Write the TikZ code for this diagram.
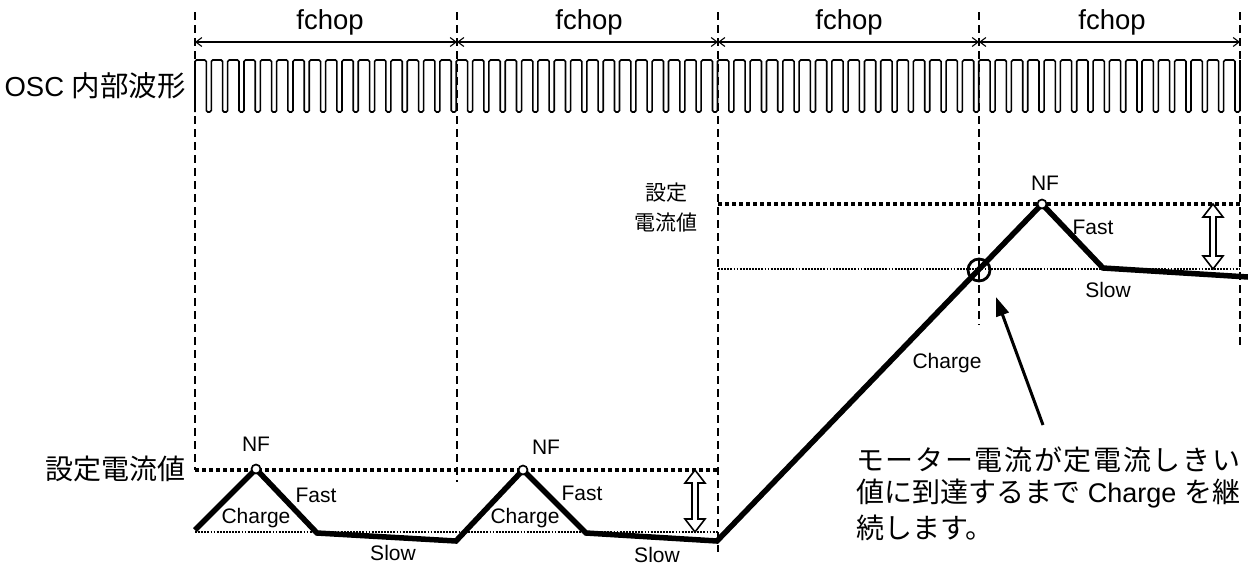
\documentclass[tikz,border=0pt]{standalone}
\usepackage{fontspec}
\setmainfont{Liberation Sans}
\newfontfamily\jp{Noto Sans CJK JP}
\usetikzlibrary{arrows.meta}
\tikzset{
  vdash/.style={line width=1.1pt, dash pattern=on 8pt off 5pt},
  tdot/.style={line width=3.8pt, dash pattern=on 3.8pt off 3.2pt},
  fdot/.style={line width=1.8pt, dash pattern=on 1.8pt off 1.3pt},
  wave/.style={line width=5.5pt, line join=miter},
  pulse/.style={line width=1.6pt, rounded corners=1.5pt},
  dim/.style={line width=1.1pt, {Straight Barb[length=6pt,width=9pt]}-{Straight Barb[length=6pt,width=9pt]}},
  hollow/.style={line width=1.6pt, fill=white, line join=miter},
  nfc/.style={circle, draw, line width=1.7pt, fill=white, minimum size=9pt, inner sep=0},
  bigc/.style={circle, draw, line width=2.8pt, minimum size=22pt, inner sep=0},
  lbl/.style={font=\fontsize{21}{24}\selectfont, inner sep=0},
  big/.style={font=\fontsize{27.5}{30}\selectfont, inner sep=0},
  jbig/.style={font=\fontsize{28}{30}\selectfont\jp, inner sep=0},
  jmid/.style={font=\fontsize{21}{24}\selectfont\jp, inner sep=0},
  note/.style={font=\fontsize{28}{30}\selectfont, inner sep=0, anchor=west},
}
\newcommand\dblarrow[3]{%
  \draw[hollow] (#1,#2) -- ++(10,13) -- ++(-7,0) -- (#1+3,#3-13) -- ++(7,0) -- (#1,#3)
    -- ++(-10,-13) -- ++(7,0) -- (#1-3,#2+13) -- ++(-7,0) -- cycle;}
\begin{document}
\begin{tikzpicture}[x=1pt,y=-1pt]
\useasboundingbox[fill=white] (0,0) rectangle (1248,566);

% vertical dashed lines
\coordinate (v0t) at (195,12);  \coordinate (v0b) at (195,470);
\coordinate (v1t) at (457,12);  \coordinate (v1b) at (457,482);
\coordinate (v2t) at (718,12);  \coordinate (v2b) at (718,552);
\coordinate (v3t) at (979,12);  \coordinate (v3b) at (979,325);
\coordinate (v4t) at (1240,12); \coordinate (v4b) at (1240,345);
\foreach \k in {0,...,4} { \draw[vdash] (v\k t) -- (v\k b); }

% fchop dimension arrows
\foreach \k/\x in {0/195,1/457,2/718,3/979,4/1240} { \coordinate (d\k) at (\x,42); }
\draw[dim] (d0) -- (d1);
\draw[dim] (d1) -- (d2);
\draw[dim] (d2) -- (d3);
\draw[dim] (d3) -- (d4);
\node[big] (f1) at (330,22) {fchop};
\node[big] (f2) at (589,22) {fchop};
\node[big] (f3) at (849,22) {fchop};
\node[big] (f4) at (1112,22) {fchop};

% OSC waveform
\node[big, anchor=east] (osc) at (186,86) {OSC {\jp\fontsize{28.5}{30}\selectfont 内部波形}};
\draw[pulse] (195,112) \foreach \i in {1,...,64} { -- ++(0,-52) -- ++(11.3,0) -- ++(0,52) -- ++(5.028,0) } -- ++(0,-52);

% level lines
\coordinate (la) at (195,470); \coordinate (lb) at (718,470);
\coordinate (lc) at (195,532); \coordinate (ld) at (718,532);
\coordinate (ua) at (718,204); \coordinate (ub) at (1240,204);
\coordinate (uc) at (718,269); \coordinate (ud) at (1240,269);
\draw[tdot] (la) -- (lb);
\draw[fdot] (lc) -- (ld);
\draw[tdot] (ua) -- (ub);
\draw[fdot] (uc) -- (ud);

% current waveform
\coordinate (w0) at (195,530);
\coordinate (n1) at (256,469);
\coordinate (w1) at (317,533);
\coordinate (w2) at (456,541);
\coordinate (n2) at (523,470);
\coordinate (w3) at (586,533);
\coordinate (w4) at (717,541);
\coordinate (n3) at (1042,204);
\coordinate (w5) at (1103,268);
\coordinate (w6) at (1248,277);
\draw[wave] (w0) -- (n1) -- (w1) -- (w2) -- (n2) -- (w3) -- (w4) -- (n3) -- (w5) -- (w6);
\node[nfc] (c1) at (n1) {};
\node[nfc] (c2) at (n2) {};
\node[nfc] (c3) at (n3) {};
\node[bigc] (hit) at (979,270) {};

% hollow double arrows
\dblarrow{695}{470}{532}
\dblarrow{1213}{204}{269}

% pointer
\coordinate (ptail) at (1043,425);
\coordinate (ptip) at (996,297);
\draw[line width=3pt, -{Triangle[length=19pt,width=13pt]}] (ptail) -- (ptip);

% labels
\node[jbig, anchor=east] (set1) at (186,469) {設定電流値};
\node[jmid] (set2a) at (666,193) {設定};
\node[jmid] (set2b) at (666,223) {電流値};
\node[lbl] (nf1) at (256,444) {NF};
\node[lbl] (nf2) at (546,447) {NF};
\node[lbl] (nf3) at (1045,183) {NF};
\node[lbl] (ch1) at (256,518) {Charge};
\node[lbl] (ch2) at (525,518) {Charge};
\node[lbl] (ch3) at (947,363) {Charge};
\node[lbl] (fa1) at (316,495) {Fast};
\node[lbl] (fa2) at (582,493) {Fast};
\node[lbl] (fa3) at (1093,227) {Fast};
\node[lbl] (sl1) at (393,553) {Slow};
\node[lbl] (sl2) at (657,555) {Slow};
\node[lbl] (sl3) at (1108,290) {Slow};

% annotation
\node[note, font=\fontsize{28}{30}\selectfont\jp] (t1) at (856,460) {\makebox[384pt][s]{モ\hfill ー\hfill タ\hfill ー\hfill 電\hfill 流\hfill が\hfill 定\hfill 電\hfill 流\hfill し\hfill き\hfill い}};
\node[note] (t2) at (856,494) {\makebox[384pt][s]{{\jp 値に到達するまで}\hspace{7pt}\hfill{\fontsize{27}{30}\selectfont Charge}\hspace{7pt}\hfill{\jp を継}}};
\node[note, font=\fontsize{28}{30}\selectfont\jp] (t3) at (856,528) {続します。};
\end{tikzpicture}
\end{document}
